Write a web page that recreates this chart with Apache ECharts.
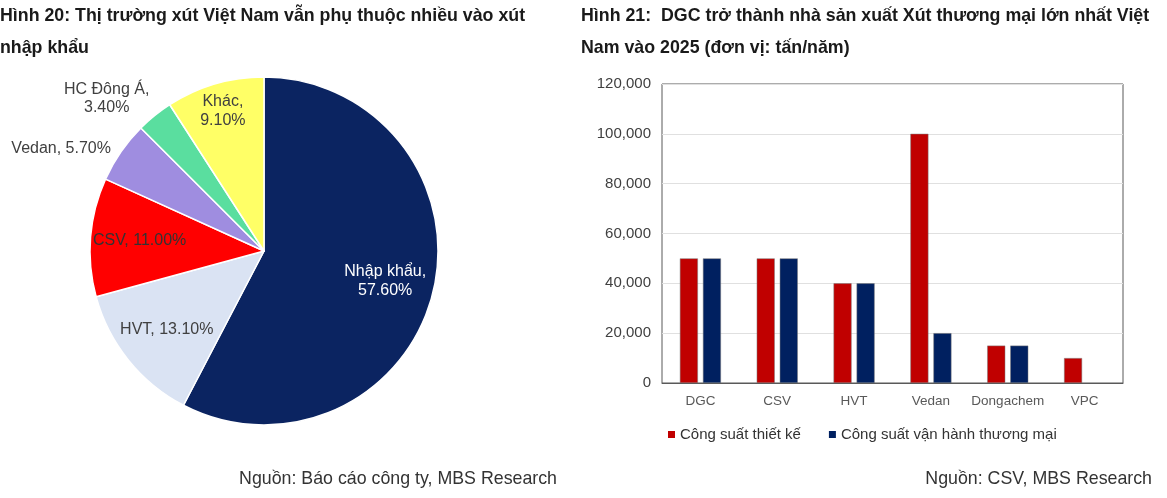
<!DOCTYPE html>
<html>
<head>
<meta charset="utf-8">
<script src="https://cdn.jsdelivr.net/npm/echarts@6/dist/echarts.min.js"></script>
<style>
  html, body { margin: 0; padding: 0; background: #fff; }
  #chart { width: 1167px; height: 498px; }
</style>
</head>
<body>
<div id="chart"></div>
<script>
const FONT = '"Liberation Sans", Arial, sans-serif';

// pie: Hình 20
const pieNames = ['Nhập khẩu', 'HVT', 'CSV', 'Vedan', 'HC Đông Á', 'Khác'];
const pieValues = [57.6, 13.1, 11.0, 5.7, 3.4, 9.1];
const pieColors = ['#0b2461', '#dae3f3', '#ff0000', '#9f8de0', '#5ade9f', '#ffff66'];
const pieLabelColors = ['#ffffff', '#404040', '#333333', '#404040', '#404040', '#404040'];
const pieWrapped = ['Nhập khẩu', 'HC Đông Á', 'Khác'];
const pieOutside = ['Vedan'];
const pieOutsideWrapped = ['HC Đông Á'];
const pieOuterRing = ['Khác'];

// bars: Hình 21
const barCategories = ['DGC', 'CSV', 'HVT', 'Vedan', 'Dongachem', 'VPC'];
const designCapacity = [50000, 50000, 40000, 100000, 15000, 10000];
const operatingCapacity = [50000, 50000, 40000, 20000, 15000, null];
const seriesNames = ['Công suất thiết kế', 'Công suất vận hành thương mại'];

const chart = echarts.init(document.getElementById('chart'));

const pieLabel = (name, value) => {
  const sep = pieWrapped.includes(name) ? ',\n' : ', ';
  return name + sep + value.toFixed(2) + '%';
};

const CX = 264, CY = 251, R = 174;

// main pie, holds the single-line outside label
const mainPieData = pieNames.map((name, i) => ({
  name,
  value: pieValues[i],
  itemStyle: { color: pieColors[i] },
  label: { show: pieOutside.includes(name), color: pieLabelColors[i] }
}));

// transparent copies only used to place the other labels
const ringData = (filter) => pieNames.map((name, i) => ({
  name,
  value: pieValues[i],
  label: { show: filter(name), color: pieLabelColors[i] }
}));

const labelRing = (radius, data) => ({
  type: 'pie',
  center: [CX, CY],
  radius,
  startAngle: 90,
  silent: true,
  z: 5,
  itemStyle: { color: 'rgba(0,0,0,0)', borderWidth: 0 },
  label: {
    position: 'inside',
    fontFamily: FONT,
    fontSize: 16,
    lineHeight: 19,
    formatter: (p) => pieLabel(p.name, p.value)
  },
  labelLine: { show: false },
  emphasis: { disabled: true },
  data
});

const option = {
  animation: false,
  textStyle: { fontFamily: FONT },
  title: [
    {
      text: 'Hình 20: Thị trường xút Việt Nam vẫn phụ thuộc nhiều vào xút\nnhập khẩu',
      left: 0, top: 0, padding: 0,
      textStyle: { fontFamily: FONT, fontSize: 17.8, fontWeight: 'bold', color: '#1a1a1a', lineHeight: 32 }
    },
    {
      text: 'Hình 21:  DGC trở thành nhà sản xuất Xút thương mại lớn nhất Việt\nNam vào 2025 (đơn vị: tấn/năm)',
      left: 581, top: 0, padding: 0,
      textStyle: { fontFamily: FONT, fontSize: 17.8, fontWeight: 'bold', color: '#1a1a1a', lineHeight: 32 }
    },
    {
      text: 'Nguồn: Báo cáo công ty, MBS Research',
      right: 610, top: 470, padding: 0,
      textStyle: { fontFamily: FONT, fontSize: 17.8, fontWeight: 'normal', color: '#333333' }
    },
    {
      text: 'Nguồn: CSV, MBS Research',
      right: 15, top: 470, padding: 0,
      textStyle: { fontFamily: FONT, fontSize: 17.8, fontWeight: 'normal', color: '#333333' }
    }
  ],
  legend: {
    data: seriesNames,
    left: 663, top: 422,
    icon: 'rect',
    itemWidth: 7, itemHeight: 7,
    itemGap: 28,
    itemStyle: { borderWidth: 0 },
    textStyle: { fontFamily: FONT, fontSize: 15, color: '#333333' }
  },
  grid: {
    left: 662, right: 44, top: 84, bottom: 115,
    show: true, borderColor: '#595959', borderWidth: 1,
    containLabel: false
  },
  xAxis: {
    type: 'category',
    data: barCategories,
    axisLine: { lineStyle: { color: '#595959' } },
    axisTick: { show: false },
    axisLabel: { color: '#595959', fontSize: 13.5, margin: 11, interval: 0, fontFamily: FONT }
  },
  yAxis: {
    type: 'value',
    min: 0, max: 120000, interval: 20000,
    axisLine: { show: false },
    axisTick: { show: false },
    splitLine: { lineStyle: { color: '#e0e0e0' } },
    axisLabel: {
      color: '#404040', fontSize: 15, margin: 11, fontFamily: FONT,
      formatter: (v) => v.toLocaleString('en-US')
    }
  },
  series: [
    {
      type: 'pie',
      center: [CX, CY],
      radius: R,
      startAngle: 90,
      silent: true,
      itemStyle: { borderColor: '#ffffff', borderWidth: 1.5 },
      label: {
        position: 'outside',
        fontFamily: FONT,
        fontSize: 16,
        lineHeight: 18,
        formatter: (p) => pieLabel(p.name, p.value)
      },
      labelLine: { show: false, length: 6, length2: 0 },
      emphasis: { disabled: true },
      data: mainPieData
    },
    labelRing([R * 0.4, R], ringData((n) => !pieOutside.includes(n) && !pieOutsideWrapped.includes(n) && !pieOuterRing.includes(n))),
    labelRing([R * 0.64, R], ringData((n) => pieOuterRing.includes(n))),
    {
      // outside two-line label with centred lines
      type: 'pie',
      center: [CX, CY],
      radius: R,
      startAngle: 90,
      silent: true,
      z: 5,
      itemStyle: { color: 'rgba(0,0,0,0)', borderWidth: 0 },
      label: {
        position: 'outside',
        padding: [0, 0, 34, 0],
        formatter: (p) => '{c|' + p.name + ',}\n{c|' + p.value.toFixed(2) + '%}',
        rich: { c: { width: 86, align: 'center', fontSize: 16, lineHeight: 18, color: '#404040', fontFamily: FONT } }
      },
      labelLine: { show: false, length: 0, length2: 0 },
      emphasis: { disabled: true },
      data: ringData((n) => pieOutsideWrapped.includes(n))
    },
    {
      name: seriesNames[0],
      type: 'bar',
      barWidth: 18,
      barGap: '28%',
      itemStyle: { color: '#c00000', borderColor: '#7a7a7a', borderWidth: 0.5 },
      data: designCapacity
    },
    {
      name: seriesNames[1],
      type: 'bar',
      barWidth: 18,
      itemStyle: { color: '#002060', borderColor: '#7a7a7a', borderWidth: 0.5 },
      data: operatingCapacity
    }
  ]
};

chart.setOption(option);
</script>
</body>
</html>
